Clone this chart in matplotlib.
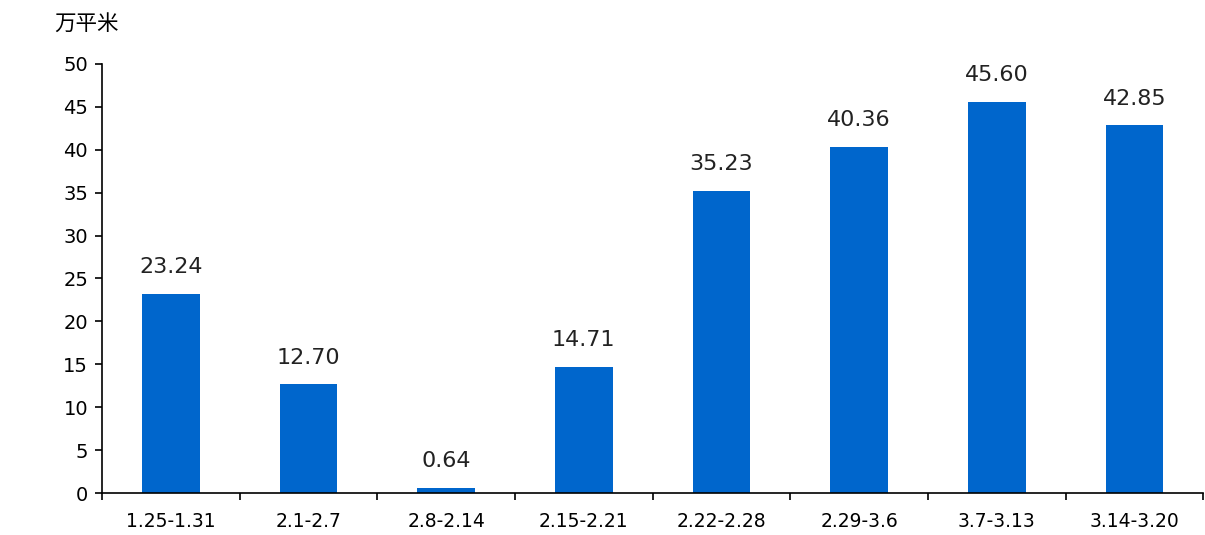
import numpy as np
import matplotlib.pyplot as plt
from matplotlib.ticker import FixedLocator

plt.rcParams['font.family'] = ['DejaVu Sans', 'Noto Sans CJK SC']

# 每周成交面积（万平米）
weeks = ["1.25-1.31", "2.1-2.7", "2.8-2.14", "2.15-2.21",
         "2.22-2.28", "2.29-3.6", "3.7-3.13", "3.14-3.20"]
area = [23.24, 12.70, 0.64, 14.71, 35.23, 40.36, 45.60, 42.85]

fig = plt.figure(figsize=(12.05, 5.35), dpi=100)
ax = fig.add_axes([0.0846, 0.0785, 0.914, 0.802])

x = np.arange(len(weeks))
bars = ax.bar(x, area, width=0.42, color="#0066CC")

for xi, v in zip(x, area):
    ax.text(xi, v + 1.9, f"{v:.2f}", ha="center", va="bottom", fontsize=16, color="#222222")

ax.set_xlim(-0.5, len(weeks) - 0.5)
ax.set_ylim(0, 50)
ax.set_yticks(range(0, 51, 5))
ax.tick_params(axis="y", labelsize=14, length=5, width=1.2, direction="out", pad=5)

ax.set_xticks(x)
ax.set_xticklabels(weeks, fontsize=13.5)
ax.xaxis.set_minor_locator(FixedLocator(np.arange(-0.5, len(weeks), 1.0)))
ax.tick_params(axis="x", which="major", length=0, pad=14)
ax.tick_params(axis="x", which="minor", length=5, width=1.2, direction="out")

for s in ["top", "right"]:
    ax.spines[s].set_visible(False)
ax.spines["left"].set_linewidth(1.2)
ax.spines["bottom"].set_linewidth(1.2)

fig.text(0.045, 0.956, "万平米", fontsize=15.5, family=['Noto Sans CJK SC'], va="center")

fig.savefig("out.png", dpi=100)
